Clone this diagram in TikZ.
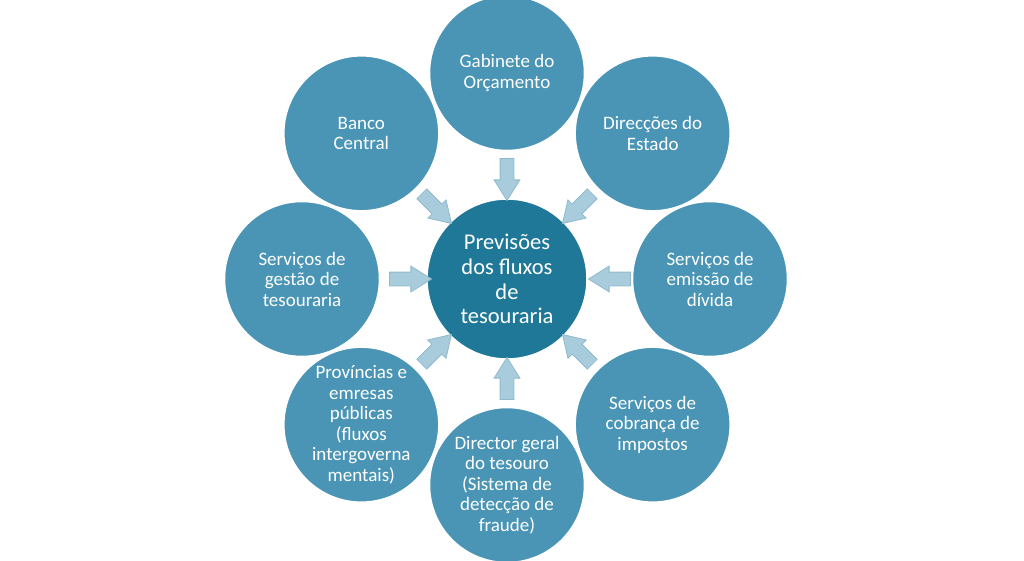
\documentclass[tikz,border=0pt]{standalone}
\usepackage{fontspec}
\setmainfont{Carlito}
\usetikzlibrary{shapes.arrows}
\definecolor{hubblue}{HTML}{1F7898}
\definecolor{srcblue}{HTML}{4A95B5}
\definecolor{flowfill}{HTML}{A8CCDB}
\definecolor{flowline}{HTML}{8EBACE}
\begin{document}
\begin{tikzpicture}[x=1pt,y=1pt,
src/.style={circle,draw=white,line width=1.5pt,fill=srcblue,text=white,minimum size=155pt,inner sep=0pt,align=center,font=\fontsize{19}{20.5}\selectfont},
hub/.style={src,fill=hubblue,minimum size=160pt,font=\fontsize{22.5}{24.7}\selectfont},
flow/.style={single arrow,draw=flowline,fill=flowfill,line width=.8pt,minimum height=42pt,minimum width=25pt,text height=13pt,text depth=0pt,text width=0pt,single arrow head extend=6pt,single arrow head indent=0pt,single arrow tip angle=64,inner sep=0pt}]
\useasboundingbox (-507,-281) rectangle (517,279);
\node[hub](prev){Previsões\\dos fluxos\\de\\tesouraria};
\node[src](gab) at (90:206){Gabinete do\\Orçamento};
\node[src](dir) at (45:206){Direcções do\\Estado};
\node[src](emi) at (0:203){Serviços de\\emissão de\\dívida};
\node[src](cob) at (-45:206){Serviços de\\cobrança de\\impostos};
\node[src](dgt) at (-90:206){Director geral\\do tesouro\\(Sistema de\\detecção de\\fraude)};
\node[src](prov) at (-135:206){Províncias e\\emresas\\públicas\\(fluxos\\intergoverna\\mentais)};
\node[src](ges) at (180:205){Serviços de\\gestão de\\tesouraria};
\node[src](banco) at (135:206){Banco\\Central};
% setas para o centro
\node[flow,rotate=270](fgab) at (90:105){};
\node[flow,rotate=225](fdir) at (45:105){};
\node[flow,rotate=180](femi) at (0:108){};
\node[flow,rotate=135](fcob) at (-45:105){};
\node[flow,rotate=90](fdgt) at (-90:105){};
\node[flow,rotate=45](fprov) at (-135:105){};
\node[flow,rotate=0](fges) at (180:102){};
\node[flow,rotate=315](fbanco) at (135:105){};
\end{tikzpicture}
\end{document}
